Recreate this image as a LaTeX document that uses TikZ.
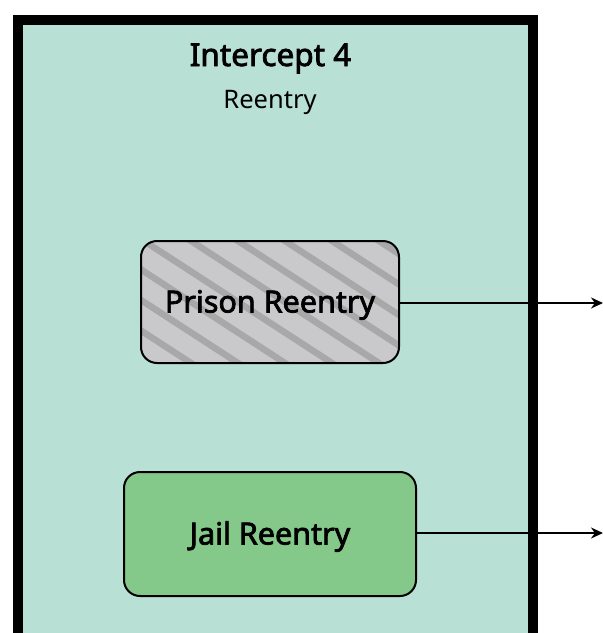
\documentclass[tikz,border=0pt]{standalone}
\usepackage{fontspec}
\setmainfont{Noto Sans}
\newfontfamily\medfont{Noto Sans}[FakeBold=2.4]
\usetikzlibrary{arrows.meta}
\definecolor{mint}{HTML}{B9E0D4}
\definecolor{boxgray}{HTML}{C9C9CB}
\definecolor{hatchgray}{HTML}{A8A8A8}
\definecolor{jailgreen}{HTML}{84C88A}
\tikzset{
  box/.style={draw=black, line width=2pt, rounded corners=16pt, inner sep=0pt,
    font=\medfont\fontsize{30.5}{33}\selectfont, text height=21pt, text depth=0pt},
  hatched/.style={path picture={
    \foreach \i in {-9,...,9}{
      \draw[hatchgray, line width=6.5pt]
        ([shift={(\i*47+15-0.839*250, -0.545*250)}]path picture bounding box.center)
        -- ++(0.839*500, 0.545*500);
    }}},
  link/.style={draw=black, line width=1.8pt, -{Stealth[length=12pt,width=11pt]}}
}
\begin{document}
\begin{tikzpicture}[x=1pt,y=-1pt]
\useasboundingbox (0,0) rectangle (603,633);
\node[draw=black, line width=10pt, fill=mint, inner sep=0pt, anchor=north west,
  minimum width=515pt, minimum height=620pt] (frame) at (12.5,14.5) {};
\node[font=\medfont\fontsize{31.5}{34}\selectfont, anchor=base] (title) at (270.5,66) {Intercept 4};
\node[font=\fontsize{25.5}{28}\selectfont, anchor=base] (subtitle) at (270,108) {Reentry};
\node[box, hatched, fill=boxgray, minimum width=258pt, minimum height=122pt] (prison) at (270,302) {Prison Reentry};
\node[box, fill=jailgreen, minimum width=292pt, minimum height=124pt] (jail) at (270,534) {Jail Reentry};
\coordinate (prisonout) at (603,303);
\coordinate (jailout) at (603,533);
\draw[link] (prison.east |- prisonout) -- (prisonout);
\draw[link] (jail.east |- jailout) -- (jailout);
\end{tikzpicture}
\end{document}
